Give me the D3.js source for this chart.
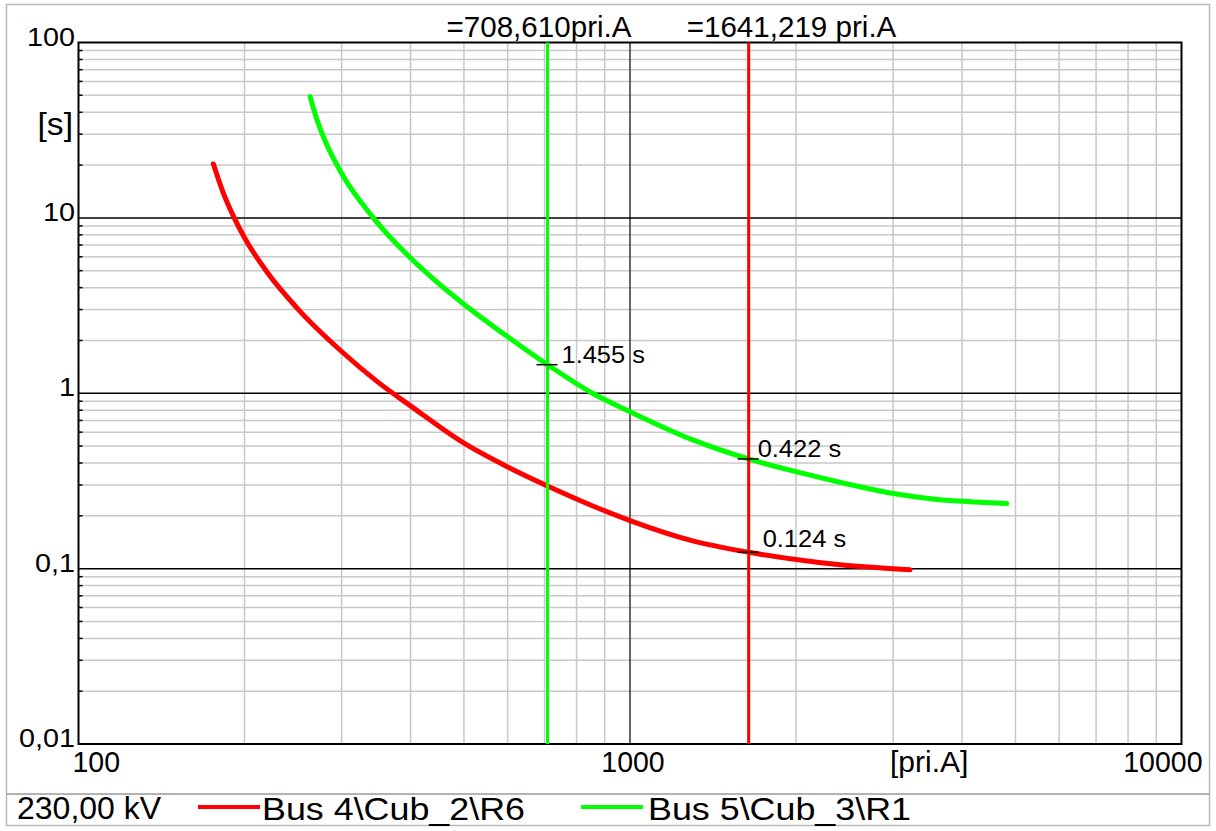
<!DOCTYPE html>
<html>
<head>
<meta charset="utf-8">
<script src="https://cdn.jsdelivr.net/npm/d3@7"></script>
<style>
body { margin: 0; background: #fff; }
svg { display: block; font-family: "Liberation Sans", Arial, sans-serif; }
</style>
</head>
<body>
<svg id="chart" width="1216" height="831"></svg>
<script>
// relay curves, current [pri.A] / time [s]
const r6Current = [175.6, 183, 191.6, 200, 220, 250, 300, 350, 400, 500, 600, 708.6, 850, 1000, 1300, 1641, 2200, 2700, 3219];
const r6Time    = [20.3, 13.9, 10, 7.7, 4.88, 3.02, 1.73, 1.15, 0.847, 0.519, 0.38, 0.296, 0.23, 0.188, 0.144, 0.124, 0.1085, 0.102, 0.0985];
const r1Current = [263, 270, 280, 300, 342.5, 400, 450, 500, 600, 708.6, 855, 1000, 1300, 1641, 2000, 2500, 3000, 3600, 4200, 4820];
const r1Time    = [49.1, 37.1, 27.5, 17.9, 10, 5.9, 4.22, 3.22, 2.10, 1.455, 1.0, 0.785, 0.542, 0.422, 0.357, 0.302, 0.268, 0.248, 0.240, 0.235];

const markerCurrents = [708.61, 1641.219];
const markerNames = ['=708,610pri.A', '=1641,219 pri.A'];

const readCurrents = [708.61, 1641.219, 1641.219];
const readTimes = [1.455, 0.422, 0.124];
const readLabels = ['1.455 s', '0.422 s', '0.124 s'];

const xTicks = [100, 1000, 10000];
const xTickLabels = ['100', '1000', '10000'];
const yTicks = [100, 10, 1, 0.1, 0.01];
const yTickLabels = ['100', '10', '1', '0,1', '0,01'];

const busVoltage = '230,00 kV';
const legendNames = ['Bus 4\\Cub_2\\R6', 'Bus 5\\Cub_3\\R1'];

const red = '#ff0000', green = '#00ff00';

let svg = d3.select('#chart');
let plotLeft = 78.5, plotRight = 1181.5, plotTop = 42.5, plotBottom = 744;

let x = d3.scaleLog().domain([100, 10000]).range([plotLeft, plotRight]);
let y = d3.scaleLog().domain([0.01, 100]).range([plotBottom, plotTop]);

function widen(sel, k) {
    sel.each(function() {
        let w = this.getComputedTextLength();
        d3.select(this).attr('textLength', w * k).attr('lengthAdjust', 'spacingAndGlyphs');
    });
}

// frame
svg.append('rect')
    .attr('x', 6.5).attr('y', 4.5).attr('width', 1203).attr('height', 821)
    .attr('fill', 'none').attr('stroke', '#b8b8b8').attr('stroke-width', 1.5);
svg.append('line')
    .attr('x1', 6.5).attr('x2', 1209.5).attr('y1', 794).attr('y2', 794)
    .attr('stroke', '#9a9a9a').attr('stroke-width', 1.5);

// minor grid
let xMinor = [], yMinor = [];
[100, 1000].forEach(d => { for (let m = 2; m <= 9; m++) xMinor.push(d * m); });
[0.01, 0.1, 1, 10].forEach(d => { for (let m = 2; m <= 9; m++) yMinor.push(d * m); });

let grid = svg.append('g');
grid.selectAll('.xm').data(xMinor).join('line')
    .attr('x1', d => x(d)).attr('x2', d => x(d)).attr('y1', plotTop).attr('y2', plotBottom)
    .attr('stroke', '#c8c8c8').attr('stroke-width', 1.5);
grid.selectAll('.ym').data(yMinor).join('line')
    .attr('x1', plotLeft).attr('x2', plotRight).attr('y1', d => y(d)).attr('y2', d => y(d))
    .attr('stroke', '#c8c8c8').attr('stroke-width', 1.5);
grid.selectAll('.yt').data(yMinor).join('line')
    .attr('x1', plotLeft).attr('x2', plotLeft + 4).attr('y1', d => y(d)).attr('y2', d => y(d))
    .attr('stroke', '#000').attr('stroke-width', 1.5);

// major grid
grid.selectAll('.xM').data([1000]).join('line')
    .attr('x1', d => x(d)).attr('x2', d => x(d)).attr('y1', plotTop).attr('y2', plotBottom)
    .attr('stroke', '#333').attr('stroke-width', 1.5);
grid.selectAll('.yM').data([10, 1, 0.1]).join('line')
    .attr('x1', plotLeft).attr('x2', plotRight).attr('y1', d => y(d)).attr('y2', d => y(d))
    .attr('stroke', '#000').attr('stroke-width', 1.5);

svg.append('rect')
    .attr('x', plotLeft).attr('y', plotTop)
    .attr('width', plotRight - plotLeft).attr('height', plotBottom - plotTop)
    .attr('fill', 'none').attr('stroke', '#000').attr('stroke-width', 2);

// curves
let line = d3.line()
    .curve(d3.curveMonotoneX)
    .x(d => x(d[0]))
    .y(d => y(d[1]));

[[r6Current, r6Time, red], [r1Current, r1Time, green]].forEach(function(s) {
    svg.append('path')
        .attr('d', line(d3.zip(s[0], s[1])))
        .attr('fill', 'none')
        .attr('stroke', s[2])
        .attr('stroke-width', 5)
        .attr('stroke-linecap', 'round')
        .attr('stroke-linejoin', 'round');
});

// current markers
svg.selectAll('.marker').data(markerCurrents).join('line')
    .attr('x1', d => x(d)).attr('x2', d => x(d)).attr('y1', plotTop).attr('y2', plotBottom)
    .attr('stroke', (d, i) => i == 0 ? green : red).attr('stroke-width', 3);

svg.selectAll('.markerName').data(markerNames).join('text')
    .attr('x', (d, i) => x(markerCurrents[i]) + (i == 0 ? -101 : -62))
    .attr('y', 36.5)
    .attr('font-size', 29)
    .text(d => d)
    .call(widen, 1.02);

// trip time readings
svg.selectAll('.readTick').data(readTimes).join('line')
    .attr('x1', (d, i) => x(readCurrents[i]) - 11)
    .attr('x2', (d, i) => x(readCurrents[i]) + 10)
    .attr('y1', d => y(d)).attr('y2', d => y(d))
    .attr('stroke', '#000').attr('stroke-width', 1.5);

svg.selectAll('.readLabel').data(readLabels).join('text')
    .attr('x', (d, i) => x(readCurrents[i]) + (i == 1 ? 9 : 14))
    .attr('y', (d, i) => y(readTimes[i]) - (i == 2 ? 5 : 2))
    .attr('font-size', 24)
    .text(d => d)
    .call(widen, 1.06);

// axis labels
svg.selectAll('.yLabel').data(yTickLabels).join('text')
    .attr('x', 75)
    .attr('y', (d, i) => y(yTicks[i]) + 3)
    .attr('text-anchor', 'end')
    .attr('font-size', 25)
    .text(d => d)
    .call(widen, 1.15);

svg.append('text')
    .attr('x', 73).attr('y', 135)
    .attr('text-anchor', 'end')
    .attr('font-size', 32)
    .text('[s]')
    .call(widen, 1.05);

svg.selectAll('.xLabel').data(xTickLabels).join('text')
    .attr('x', (d, i) => x(xTicks[i]) + [-6, 3, 21][i])
    .attr('y', 772)
    .attr('text-anchor', (d, i) => ['start', 'middle', 'end'][i])
    .attr('font-size', 30)
    .text(d => d)
    .call(widen, 0.95);

svg.append('text')
    .attr('x', 890).attr('y', 772)
    .attr('font-size', 30)
    .text('[pri.A]')
    .call(widen, 1.0);

// legend
svg.append('text')
    .attr('x', 17).attr('y', 819)
    .attr('font-size', 32)
    .text(busVoltage);

let legend = svg.selectAll('.legend').data(legendNames).join('g')
    .attr('transform', (d, i) => 'translate(' + [198, 581][i] + ',807)');
legend.append('line')
    .attr('x1', 0).attr('x2', 62)
    .attr('stroke', (d, i) => i == 0 ? red : green)
    .attr('stroke-width', 4);
legend.append('text')
    .attr('x', (d, i) => [64, 67][i]).attr('y', 13)
    .attr('font-size', 32)
    .text(d => d)
    .attr('textLength', 263)
    .attr('lengthAdjust', 'spacingAndGlyphs');
</script>
</body>
</html>
